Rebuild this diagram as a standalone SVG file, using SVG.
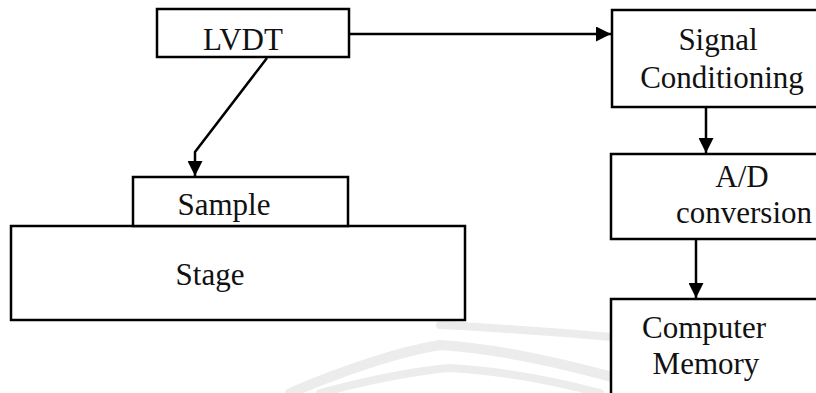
<svg xmlns="http://www.w3.org/2000/svg" width="816" height="393" viewBox="0 0 816 393">
<style>
.box{fill:#fff;stroke:#000;stroke-width:2.5}
.t{font-family:"Liberation Serif","Times New Roman",serif;font-size:31px;fill:#111;text-anchor:middle}
.c{fill:none;stroke:#000;stroke-width:2.5}
.wm{fill:none;stroke:#ececec;stroke-linecap:round}
</style>
<defs>
<marker id="ah" viewBox="0 0 10 10" refX="10" refY="5" markerWidth="6.5" markerHeight="6" markerUnits="strokeWidth" orient="auto">
<path d="M0,0 L10,5 L0,10 Z" fill="#000"/>
</marker>
</defs>
<g id="watermark">
<path class="wm" stroke-width="10" d="M290,393 Q380,355 440,345 Q520,350 640,385"/>
<path class="wm" stroke-width="8" d="M320,393 Q400,372 450,368 Q520,372 600,393"/>
<path class="wm" stroke-width="8" d="M440,325 Q540,330 700,345 L816,350"/>
</g>
<g id="stage"><rect class="box" x="11" y="226" width="454" height="94"/><text class="t" x="210" y="285">Stage</text></g>
<g id="sample"><rect class="box" x="133" y="177" width="215" height="49"/><text class="t" x="224" y="215">Sample</text></g>
<g id="lvdt"><rect class="box" x="157" y="9" width="192" height="48"/><text class="t" x="243" y="50">LVDT</text></g>
<g id="signal"><rect class="box" x="612" y="10" width="210" height="97"/><text class="t" x="718" y="50">Signal</text><text class="t" x="722" y="88">Conditioning</text></g>
<g id="adc"><rect class="box" x="611" y="154" width="211" height="85"/><text class="t" x="742" y="187">A/D</text><text class="t" x="744" y="223">conversion</text></g>
<g id="memory"><rect class="box" x="611" y="299" width="211" height="100"/><text class="t" x="704" y="338">Computer</text><text class="t" x="706" y="374">Memory</text></g>
<g id="connectors">
<line class="c" x1="349" y1="34" x2="611" y2="34" marker-end="url(#ah)"/>
<polyline class="c" points="267,58 195,152 195,176" marker-end="url(#ah)"/>
<line class="c" x1="706" y1="107" x2="706" y2="153" marker-end="url(#ah)"/>
<line class="c" x1="696" y1="239" x2="696" y2="298" marker-end="url(#ah)"/>
</g>
</svg>
